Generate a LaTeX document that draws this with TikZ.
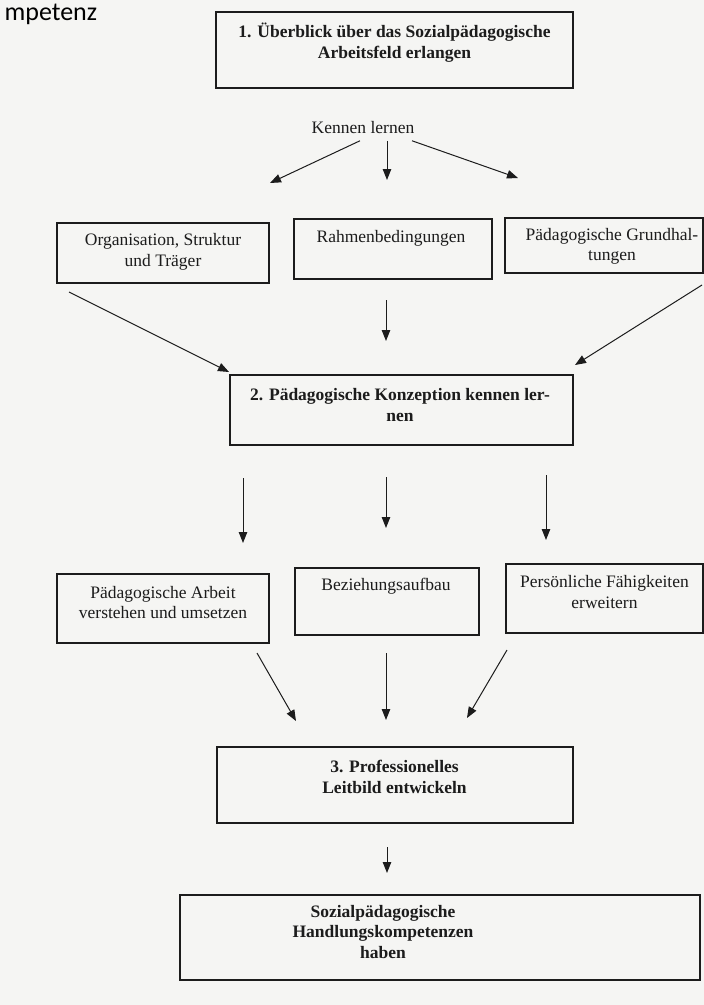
\documentclass[tikz,border=0pt]{standalone}
\usepackage{fontspec}
\setmainfont{Liberation Serif}
\newfontfamily\headfont{Carlito}
\usetikzlibrary{arrows.meta, positioning, calc}
\definecolor{paper}{HTML}{F5F5F3}
\definecolor{ink}{HTML}{1C1C1C}
\tikzset{
  every picture/.style={line width=1.2pt},
  box/.style 2 args={draw=ink, line width=1.6pt, minimum width=#1, minimum height=#2, inner sep=0pt, outer sep=0pt},
  arrow/.style={-{Triangle[length=11pt, width=8.5pt]}, draw=ink, line width=1pt},
  txt/.style={font=\fontsize{17.5}{20.5}\selectfont, align=center, inner sep=0pt, text=ink},
  btxt/.style={txt, font=\fontsize{17.5}{20.5}\selectfont\bfseries},
}

\begin{document}
\begin{tikzpicture}[x=1pt, y=-1pt]
  \fill[paper] (0,0) rectangle (704,1005);
  \useasboundingbox (0,0) rectangle (704,1005);
  \node[anchor=base west, inner sep=0pt, font=\headfont\fontsize{26}{30}\selectfont] (head) at (4,20) {mpetenz};

  \node[box={357}{76}] (b1) at (394.5,50) {};
  \node[btxt] (b1t) at (394.5,42.5) {1. Überblick über das Sozialpädagogische\\Arbeitsfeld erlangen};
  \node[txt] (kl) at (363,128) {Kennen lernen};

  \node[box={212}{60}] (org) at (163,253) {};
  \node[txt] (orgt) at (163,252) {Organisation, Struktur\\und Träger};
  \node[box={198}{60}] (rah) at (393,249) {};
  \node[txt] (raht) at (391,238) {Rahmenbedingungen};
  \node[box={198}{55}] (grd) at (604,245.5) {};
  \node[txt] (grdt) at (612,246.5) {Pädagogische Grundhal-\\tungen};

  \node[box={343}{70}] (b2) at (401.5,410) {};
  \node[btxt] (b2t) at (400,405) {2. Pädagogische Konzeption kennen ler-\\nen};

  \node[box={212}{69}] (arb) at (163,608.5) {};
  \node[txt] (arbt) at (163,602.5) {Pädagogische Arbeit\\verstehen und umsetzen};
  \node[box={184}{67}] (bez) at (387,601.5) {};
  \node[txt] (bezt) at (386,586) {Beziehungsaufbau};
  \node[box={197}{69}] (pers) at (604.5,598.5) {};
  \node[txt] (perst) at (604.5,592) {Persönliche Fähigkeiten\\erweitern};

  \node[box={356}{76}] (b3) at (395,785) {};
  \node[btxt] (b3t) at (394.5,777) {3. Professionelles\\Leitbild entwickeln};

  \node[box={520}{85}] (fin) at (440,937.5) {};
  \node[btxt] (fint) at (383,932) {Sozialpädagogische\\Handlungskompetenzen\\haben};

  \draw[arrow] ($(kl.south)+(-3,6)$) -- ($(org.north east)+(1,-40)$);
  \draw[arrow] ($(kl.south)+(24,6)$) -- ($(rah.north)+(-6,-39)$);
  \draw[arrow] ($(kl.south)+(49,6)$) -- ($(grd.north west)+(13,-40)$);

  \draw[arrow] ($(org.south west)+(12,9)$) -- ($(b2.north west)+(-1,-3)$);
  \draw[arrow] ($(rah.south)+(-7,21)$) -- ($(b2.north)+(-15.5,-34)$);
  \draw[arrow] ($(grd.south east)+(-1,12)$) -- ($(b2.north east)+(2,-10)$);

  \draw[arrow] ($(b2.south west)+(13,33)$) -- ($(arb.north)+(80,-31)$);
  \draw[arrow] ($(b2.south)+(-15.5,32)$) -- ($(bez.north)+(-1,-40)$);
  \draw[arrow] ($(b2.south east)+(-27,30)$) -- ($(pers.north west)+(40,-24)$);

  \draw[arrow] ($(arb.south east)+(-12,10)$) -- ($(b3.north west)+(79,-26)$);
  \draw[arrow] ($(bez.south)+(-1,18)$) -- ($(b3.north)+(-9,-27)$);
  \draw[arrow] ($(pers.south west)+(1,17)$) -- ($(b3.north east)+(-106,-29)$);

  \draw[arrow] ($(b3.south)+(-8,24)$) -- ($(fin.north)+(-53,-22)$);
\end{tikzpicture}
\end{document}
